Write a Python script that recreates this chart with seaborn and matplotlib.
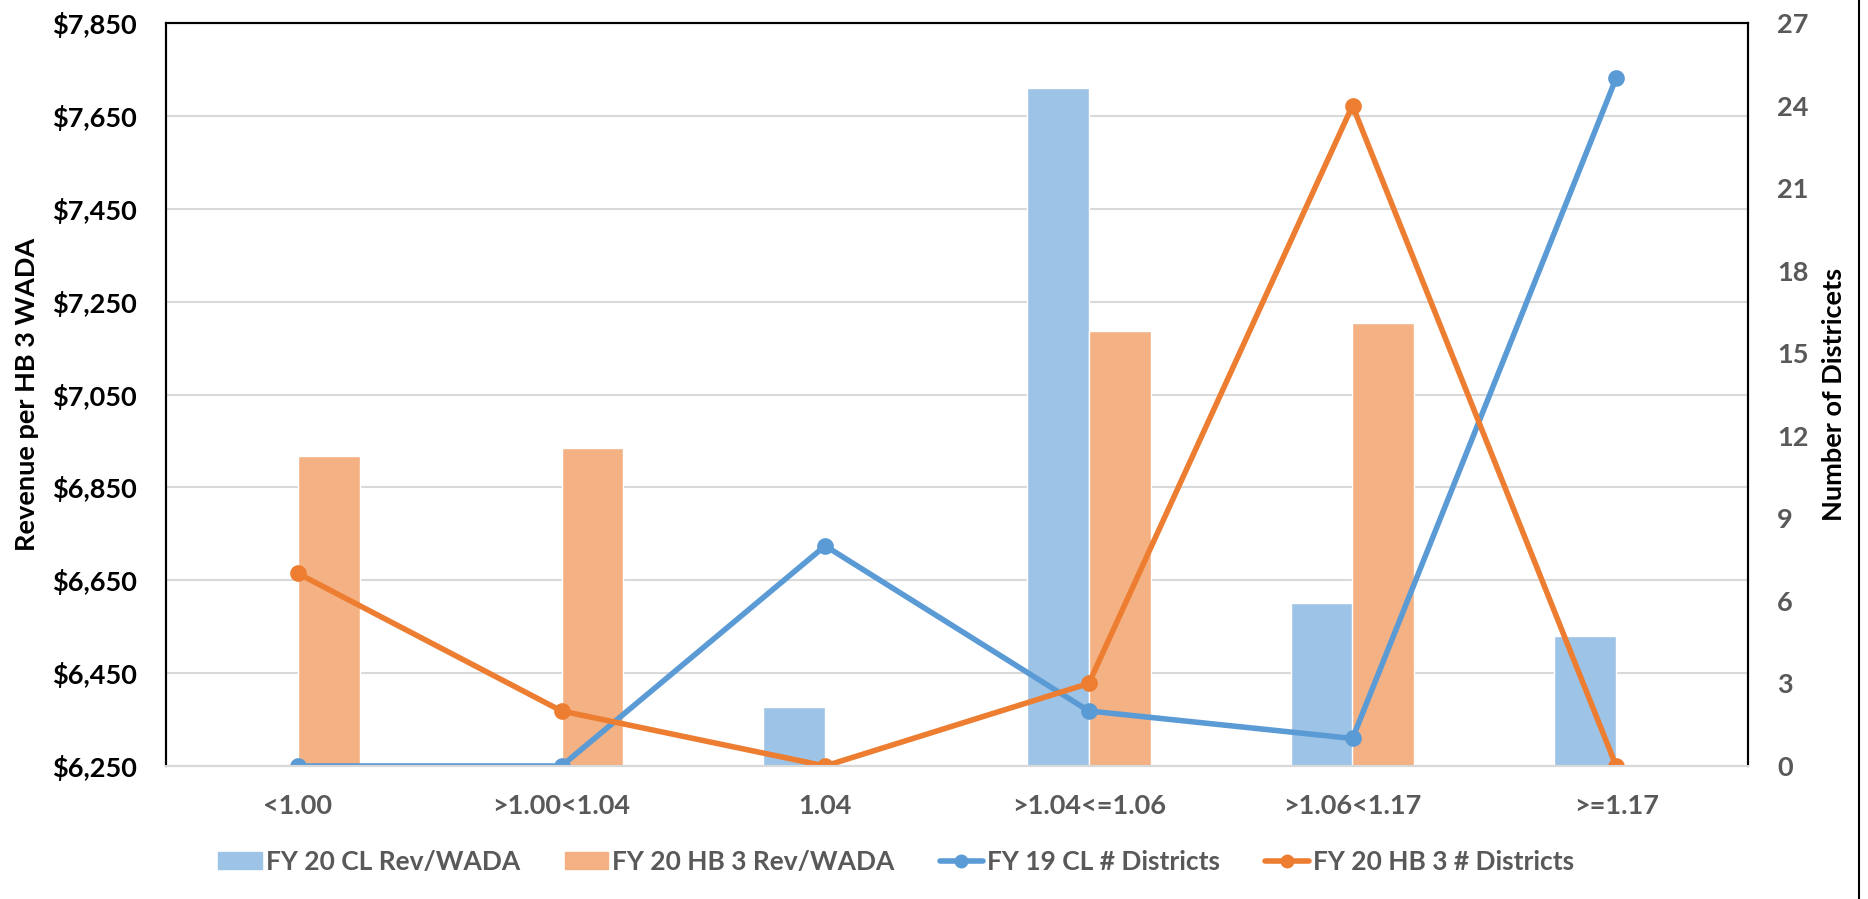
import numpy as np
import pandas as pd
import matplotlib
matplotlib.use("Agg")
import matplotlib.pyplot as plt
from matplotlib import font_manager
from matplotlib.lines import Line2D
import seaborn as sns

# ---- data ----
categories = ["<1.00", ">1.00<1.04", "1.04", ">1.04<=1.06", ">1.06<1.17", ">=1.17"]
cl_rev_wada = [np.nan, np.nan, 6378, 7710, 6601, 6529]          # FY 20 CL Rev/WADA
hb3_rev_wada = [6918, 6934, np.nan, 7186, 7205, np.nan]         # FY 20 HB 3 Rev/WADA
cl_districts = [0, 0, 8, 2, 1, 25]                              # FY 19 CL # Districts
hb3_districts = [7, 2, 0, 3, 24, 0]                             # FY 20 HB 3 # Districts

bar_names = ["FY 20 CL Rev/WADA", "FY 20 HB 3 Rev/WADA"]
line_names = ["FY 19 CL # Districts", "FY 20 HB 3 # Districts"]
left_ticks = [6250, 6450, 6650, 6850, 7050, 7250, 7450, 7650, 7850]
right_ticks = [0, 3, 6, 9, 12, 15, 18, 21, 24, 27]

bar_colors = ["#9DC3E6", "#F4B183"]
line_colors = ["#5B9BD5", "#ED7D31"]
GRAY = "#595959"

bars = pd.DataFrame({
    "Category": categories * 2,
    "Series": [bar_names[0]] * len(categories) + [bar_names[1]] * len(categories),
    "Value": cl_rev_wada + hb3_rev_wada,
}).dropna()
lines = pd.DataFrame({
    "Category": categories * 2,
    "Series": [line_names[0]] * len(categories) + [line_names[1]] * len(categories),
    "Value": cl_districts + hb3_districts,
})

sns.set_theme(style="white")

# pick a humanist sans that ships a real bold face
bold_families = {f.name for f in font_manager.fontManager.ttflist
                 if isinstance(f.weight, int) and 600 <= f.weight <= 750
                 or f.weight in ("bold", "semibold", "demibold")}
family = next((f for f in ["Lato", "Open Sans", "Noto Sans", "Roboto"] if f in bold_families),
              "DejaVu Sans")
plt.rcParams["font.family"] = [family, "DejaVu Sans"]
plt.rcParams["font.weight"] = "bold"

FS = 19.5

fig = plt.figure(figsize=(18.68, 8.99), dpi=100)
ax = fig.add_axes([166 / 1868, 1 - 766 / 899, (1748 - 166) / 1868, (766 - 23) / 899])

sns.barplot(data=bars, x="Category", y="Value", hue="Series", order=categories,
            hue_order=bar_names, palette=bar_colors, width=0.47, saturation=1,
            errorbar=None, ax=ax, zorder=2)
ax.set_ylim(6250, 7850)
ax.set_yticks(left_ticks)
ax.set_yticklabels([f"${v:,.0f}" for v in left_ticks])
ax.yaxis.grid(True, color="#D9D9D9", linewidth=1.5, zorder=0)
ax.set_axisbelow(True)
ax.set_xlabel("")
ax.set_ylabel("")

ax2 = ax.twinx()
sns.pointplot(data=lines, x="Category", y="Value", hue="Series", order=categories,
              hue_order=line_names, palette=line_colors, markers="o",
              errorbar=None, ax=ax2, linewidth=4, markersize=9)
ax2.set_ylim(0, 27)
ax2.set_yticks(right_ticks)
ax2.set_ylabel("")
ax2.set_xlim(-0.5, len(categories) - 0.5)
ax2.grid(False)

# axis titles
fig.text(27 / 1868, 1 - 394 / 899, "Revenue per HB 3 WADA", rotation=90, ha="center",
         va="center", fontsize=FS, fontweight="bold", color="black")
fig.text(1834 / 1868, 1 - 394 / 899, "Number of Districets", rotation=90, ha="center",
         va="center", fontsize=FS, fontweight="bold", color="black")

# spines: black frame on left, top, right; bottom drawn as a light rule
for a in (ax, ax2):
    for side in ("left", "top", "right"):
        a.spines[side].set_color("black")
        a.spines[side].set_linewidth(1.5)
    a.spines["bottom"].set_color("#D9D9D9")
    a.spines["bottom"].set_linewidth(1.5)

ax.tick_params(axis="y", length=0, pad=21, labelsize=FS, labelcolor="black")
ax.tick_params(axis="x", length=0, pad=20, labelsize=FS, labelcolor=GRAY)
ax2.tick_params(axis="y", length=0, pad=21, labelsize=FS, labelcolor=GRAY)
for lab in ax.get_xticklabels() + ax.get_yticklabels() + ax2.get_yticklabels():
    lab.set_fontweight("bold")

# combined legend below the plot
ax.get_legend().remove()
ax2.get_legend().remove()
handles = [plt.Rectangle((0, 0), 1, 1, color=c) for c in bar_colors]
handles += [Line2D([0], [0], color=c, linewidth=4, marker="o", markersize=9) for c in line_colors]
leg = fig.legend(handles, bar_names + line_names, loc="center", ncol=4,
                 bbox_to_anchor=(896 / 1868, 1 - 862 / 899), frameon=False,
                 fontsize=19, handlelength=1.65, handleheight=0.6, handletextpad=0.15,
                 columnspacing=1.7)
for t in leg.get_texts():
    t.set_color(GRAY)
    t.set_fontweight("bold")

# outer border on the right edge of the figure
fig.add_artist(Line2D([1859 / 1868, 1859 / 1868], [0, 1], color="black", linewidth=1.5,
                      transform=fig.transFigure))

fig.savefig("out.png", dpi=100, facecolor="white")
